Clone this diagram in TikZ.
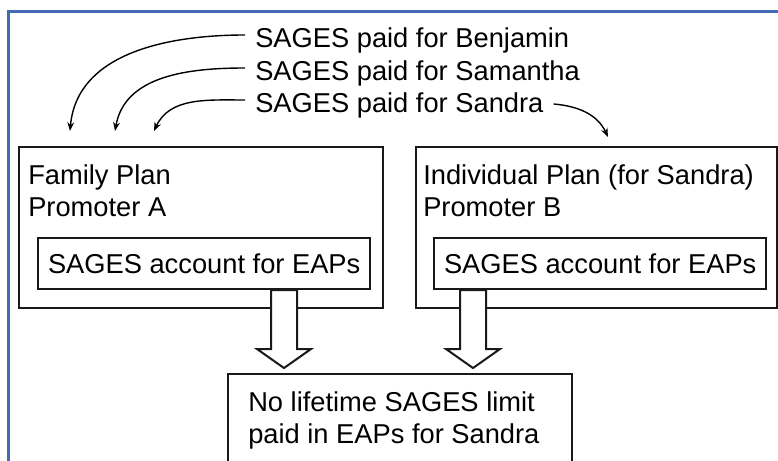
\documentclass[tikz,border=0pt]{standalone}
\usepackage{fontspec}
\setmainfont{Liberation Sans}
\usetikzlibrary{arrows.meta,calc}
\definecolor{frameblue}{RGB}{68,106,180}
\begin{document}
\begin{tikzpicture}[x=0.025cm,y=-0.025cm,
  font=\fontsize{19.4pt}{23pt}\selectfont,
  box/.style={draw=black!90,line width=0.05cm,inner sep=0},
  pay/.style={inner xsep=0.25cm,inner ysep=0,text height=0.6cm,text depth=0cm,anchor=base west},
  txt/.style={inner sep=0,align=left,anchor=north west},
  curve/.style={line width=0.035cm,-{Stealth[length=0.22cm,width=0.17cm]}}]
\clip (0,0) rectangle (778,461);
\draw[frameblue,line width=0.0625cm] (8.5,11.5) rectangle (800,480);
% plans
\node[box,anchor=north west,minimum width=9.1cm,minimum height=4.025cm] (fam) at (18,146) {};
\node[txt] (famtxt) at (28,164) {Family Plan\\Promoter A};
\node[box,anchor=north west,minimum width=9.025cm,minimum height=4.025cm] (ind) at (415,146) {};
\node[txt] (indtxt) at (423,164) {Individual Plan (for Sandra)\\Promoter B};
\node[box,anchor=north west,minimum height=1.275cm,inner xsep=0.25cm] (ina) at (37,237) {SAGES account for EAPs};
\node[box,anchor=north west,minimum height=1.275cm,inner xsep=0.25cm] (inb) at (433,237) {SAGES account for EAPs};
\node[box,anchor=north west,minimum width=8.6cm,minimum height=3cm] (low) at (227,373) {};
\node[txt] (lowtxt) at (248,391) {No lifetime SAGES limit\\paid in EAPs for Sandra};
% payments
\node[pay] (benj) at (245,47) {SAGES paid for Benjamin};
\node[pay] (sam) at (245,80) {SAGES paid for Samantha};
\node[pay] (sand) at (245,112) {SAGES paid for Sandra};
\coordinate (tb) at (70,131);
\coordinate (ts) at (115,131);
\coordinate (ta) at (154,131);
\coordinate (tind) at (608,137);
\draw[curve] (benj.west) to[out=180,in=85] (tb);
\draw[curve] (sam.west) to[out=180,in=80] (ts);
\draw[curve] (sand.west) to[out=180,in=65] (ta);
\draw[curve] ([yshift=-0.1cm]sand.east) to[out=-5,in=115] (tind);
% block arrows
\coordinate (ka) at (284,0);
\coordinate (kb) at (473,0);
\foreach \k/\src in {ka/ina,kb/inb}
  \filldraw[box,fill=white] ($(\src.south -| \k)+(-13,0)$) -- ++(0,59) -- ++(-14,0)
    -- ++(27,19) -- ++(27,-19) -- ++(-14,0) -- ++(0,-59) -- cycle;
\end{tikzpicture}
\end{document}
